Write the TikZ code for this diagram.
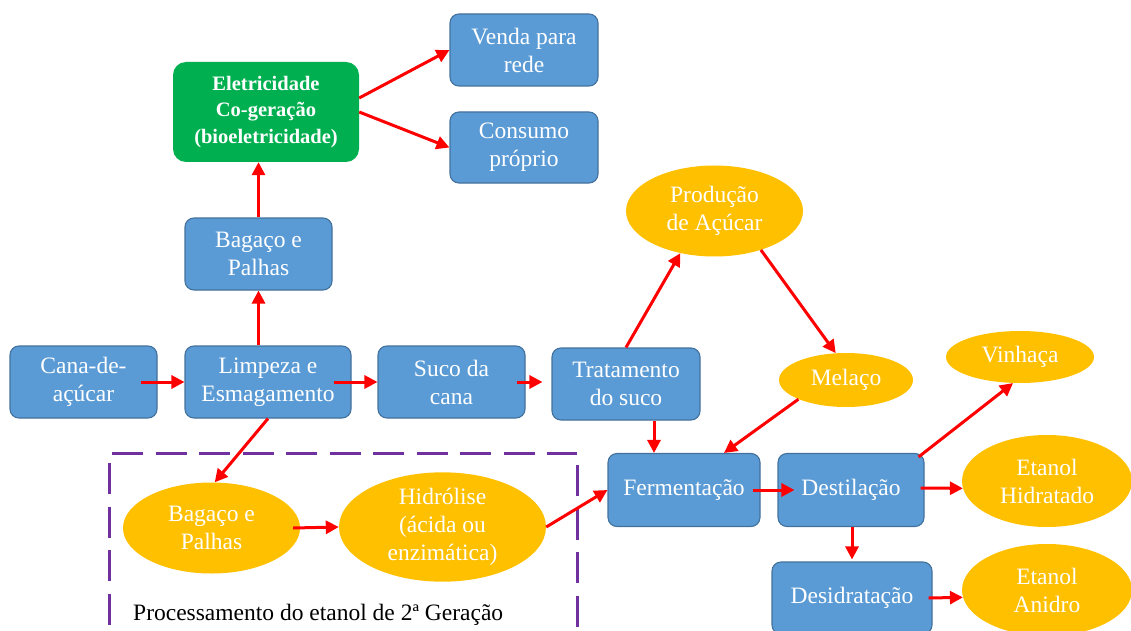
\documentclass[tikz,border=0pt]{standalone}
\usepackage{fontspec}
\setmainfont{Liberation Serif}
\usetikzlibrary{shapes.geometric,arrows.meta}
\definecolor{boxblue}{HTML}{5B9BD5}
\definecolor{boxline}{HTML}{41719C}
\definecolor{elgreen}{HTML}{00B050}
\definecolor{elorange}{HTML}{FFC000}
\definecolor{framepurple}{HTML}{7030A0}
\definecolor{arrred}{HTML}{FF0000}
\tikzset{
  stepbox/.style={rectangle, rounded corners=9pt, fill=boxblue, draw=boxline, line width=1.1pt,
    text=white, align=center, inner sep=0pt, font=\fontsize{23.5}{28}\selectfont},
  greenbox/.style={rectangle, rounded corners=13pt, fill=elgreen, draw=none,
    text=white, align=center, inner sep=0pt, font=\fontsize{20.5}{26.5}\selectfont\bfseries},
  prodell/.style={ellipse, fill=elorange, draw=none, text=white, align=center, inner sep=0pt,
    font=\fontsize{23.5}{28}\selectfont},
  flow/.style={draw=arrred, line width=3pt, -{Triangle[length=13pt,width=13pt]}},
  frameline/.style={draw=framepurple, line width=3.5pt, dash pattern=on 31pt off 12.5pt}
}
\begin{document}
\begin{tikzpicture}[x=1pt,y=-1pt]
\useasboundingbox (0,0) rectangle (1131,631);
\clip (0,0) rectangle (1131,631);

% boxes
\node[stepbox, minimum width=147pt, minimum height=72pt] (cana) at (83.5,382) {Cana-de-\\açúcar};
\node[stepbox, minimum width=166pt, minimum height=72pt] (limp) at (268,382) {Limpeza e\\Esmagamento};
\node[stepbox, minimum width=147pt, minimum height=72pt] (suco) at (451.5,382) {Suco da\\cana};
\node[stepbox, minimum width=148pt, minimum height=72pt] (trat) at (626,384) {Tratamento\\do suco};
\node[stepbox, minimum width=147pt, minimum height=72pt] (bagb) at (258.5,254) {Bagaço e\\Palhas};
\node[greenbox, minimum width=186pt, minimum height=100pt] (elet) at (266,112) {Eletricidade\\Co-geração\\(bioeletricidade)};
\node[stepbox, minimum width=148pt, minimum height=72pt] (venda) at (524,50) {Venda para\\rede};
\node[stepbox, minimum width=148pt, minimum height=71pt] (cons) at (524,147.5) {Consumo\\próprio};
\node[stepbox, minimum width=152pt, minimum height=73pt] (ferm) at (684,490) {Fermentação};
\node[stepbox, minimum width=146pt, minimum height=73pt] (dest) at (851,490) {Destilação};
\node[stepbox, minimum width=160pt, minimum height=72pt] (desi) at (852,598) {Desidratação};

% ellipses
\node[prodell, minimum width=177pt, minimum height=91pt] (prod) at (714.5,211) {Produção\\de Açúcar};
\node[prodell, minimum width=134pt, minimum height=54pt] (mel) at (846,380) {Melaço};
\node[prodell, minimum width=148pt, minimum height=52pt] (vin) at (1020,357) {Vinhaça};
\node[prodell, minimum width=170pt, minimum height=92pt] (hid) at (1047,481) {Etanol\\Hidratado};
\node[prodell, minimum width=170pt, minimum height=92pt] (ani) at (1047,590) {Etanol\\Anidro};
\node[prodell, minimum width=177pt, minimum height=91pt] (bage) at (211.5,528) {Bagaço e\\Palhas};
\node[prodell, minimum width=207pt, minimum height=102pt] (hidro) at (442.5,527) {Hidrólise\\(ácida ou\\enzimática)};

% dashed frame
\draw[frameline] (112,453.7) -- (577,453.7);
\draw[frameline] (109.5,463) -- (109.5,660);
\draw[frameline] (577.7,465) -- (577.7,660);
\node[anchor=base west, inner sep=0pt, font=\fontsize{23.5}{28}\selectfont] (lbl) at (133,620) {Processamento do etanol de 2ª Geração};

% arrows
\draw[flow] ([xshift=-17pt]cana.east) -- (limp.west);
\draw[flow] ([xshift=-18pt]limp.east) -- (suco.west);
\draw[flow] ([xshift=-9pt]suco.east) -- ([xshift=-9pt]suco.east -| trat.west);
\draw[flow] (limp.north -| bagb.south) -- (bagb.south);
\draw[flow] (bagb.north) -- (bagb.north |- elet.south);
\draw[flow] ([yshift=14pt]elet.east) -- (venda.west);
\draw[flow] (elet.east) -- (cons.west);
\draw[flow] (trat.north) -- (prod.231);
\draw[flow] (prod.-40) -- (mel.111);
\draw[flow] (mel.202) -- ([xshift=40pt]ferm.north);
\draw[flow] ([xshift=28pt]trat.south) -- ([xshift=28pt]trat.south |- ferm.north);
\draw[flow] (hidro.east) -- (ferm.west);
\draw[flow] ([xshift=-8pt]ferm.east) -- ([xshift=17pt]dest.west);
\draw[flow] ([xshift=-6pt,yshift=-4pt]dest.north east) -- (vin.255);
\draw[flow] ([xshift=-4pt,yshift=2pt]dest.east) -- (hid.185);
\draw[flow] ([xshift=1pt]dest.south) -- ([yshift=2pt]desi.north);
\draw[flow] ([xshift=-4pt]desi.east) -- (ani.185);
\draw[flow] (limp.south) -- (bage.86);
\draw[flow] ([xshift=-7pt]bage.east) -- (hidro.west);
\end{tikzpicture}
\end{document}
